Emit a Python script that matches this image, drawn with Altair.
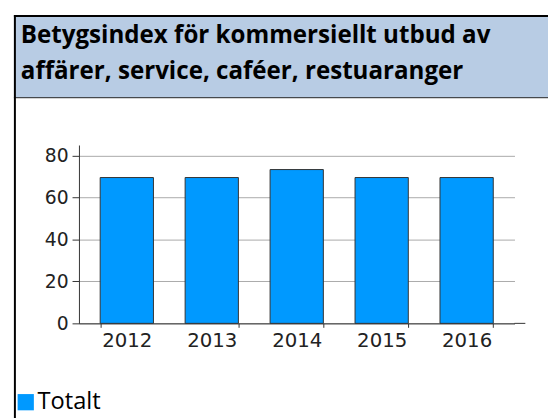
import altair as alt
import pandas as pd

years = ["2012", "2013", "2014", "2015", "2016"]
values = [69.5, 69.5, 73.3, 69.5, 69.5]
series = ["Totalt"] * 5
title_lines = ["Betygsindex för kommersiellt utbud av",
               "affärer, service, caféer, restuaranger"]
y_ticks = [0, 20, 40, 60, 80]

W, H = 442, 181

df = pd.DataFrame({"year": years, "value": values, "serie": series})
one = pd.DataFrame({"a": [0]})

bars = alt.Chart(df).mark_bar(stroke="#333333", strokeWidth=1).encode(
    x=alt.X("year:N", sort=years,
            scale=alt.Scale(paddingInner=0.373, paddingOuter=0.25),
            axis=alt.Axis(title=None, labelAngle=0, domainColor="#333333",
                          tickColor="#333333", tickSize=4, tickBand="extent",
                          tickExtra=False,
                          tickOpacity=alt.ExprRef(expr="datum.value === '2012' ? 0 : 1"),
                          labelFont="DejaVu Sans", labelFontSize=20,
                          labelColor="#222222", labelPadding=3, grid=False)),
    y=alt.Y("value:Q", scale=alt.Scale(domain=[0, 85], nice=False),
            axis=alt.Axis(title=None, values=y_ticks, grid=True,
                          gridColor="#aaaaaa", domainColor="#333333",
                          tickColor="#333333", tickSize=7, labelPadding=4,
                          labelFont="DejaVu Sans", labelFontSize=19,
                          labelColor="#222222")),
    color=alt.Color("serie:N", scale=alt.Scale(range=["#0099ff"]),
                    legend=alt.Legend(title=None, orient="none", legendX=-66,
                                      legendY=249, padding=0,
                                      symbolType="square", symbolSize=272,
                                      symbolStrokeWidth=0, labelFont="Open Sans",
                                      labelFontSize=24, labelColor="#000000",
                                      labelOffset=0)),
)

header = alt.Chart(one).mark_rect(color="#b8cce4").encode(
    x=alt.value(-66), x2=alt.value(W + 40), y=alt.value(-132), y2=alt.value(-48))
top_border = alt.Chart(one).mark_rule(color="#000000", strokeWidth=2).encode(
    x=alt.value(-66), x2=alt.value(W + 40), y=alt.value(-131))
hdr_bottom = alt.Chart(one).mark_rule(color="#222222", strokeWidth=1).encode(
    x=alt.value(-66), x2=alt.value(W + 40), y=alt.value(-48))
left_border = alt.Chart(one).mark_rule(color="#000000", strokeWidth=2).encode(
    x=alt.value(-65), y=alt.value(-132), y2=alt.value(H + 120))
axis_ext = alt.Chart(one).mark_rule(color="#333333", strokeWidth=1).encode(
    x=alt.value(W), x2=alt.value(W + 11), y=alt.value(H))

t1 = alt.Chart(one).mark_text(align="left", baseline="alphabetic", font="Open Sans",
                              fontWeight="bold", fontSize=24.5, color="#000000").encode(
    x=alt.value(-59), y=alt.value(-104), text=alt.value(title_lines[0]))
t2 = alt.Chart(one).mark_text(align="left", baseline="alphabetic", font="Open Sans",
                              fontWeight="bold", fontSize=24.5, color="#000000").encode(
    x=alt.value(-59), y=alt.value(-67), text=alt.value(title_lines[1]))

chart = alt.layer(header, top_border, hdr_bottom, left_border, t1, t2, bars, axis_ext).properties(
    width=W, height=H,
    autosize=alt.AutoSizeParams(type="none"),
    padding={"left": 72, "top": 136, "right": 34, "bottom": 93},
    background="white",
).configure_view(stroke=None)

chart.save("out.html", embed_options={"renderer": "svg", "actions": False})
